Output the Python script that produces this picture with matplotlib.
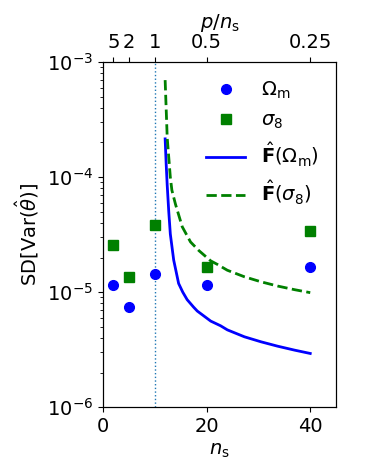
import numpy as np
import matplotlib
matplotlib.use('Agg')
from matplotlib import pyplot as plt

p = 10

# simulations: number of sims and SD of the variance estimates
n_sims = [2, 5, 10, 20, 40]
sd_om = [1.16e-5, 7.45e-6, 1.44e-5, 1.16e-5, 1.65e-5]
sd_s8 = [2.55e-5, 1.36e-5, 3.83e-5, 1.66e-5, 3.39e-5]

# Fisher predictions
n_fish_om = [12.0, 12.2, 12.4, 12.7, 13.0, 13.65, 14.6, 15.4, 16.25, 17.5, 18.2,
             20.8, 22.7, 24.0, 27.3, 30.5, 33.7, 37.0, 40.0]
sd_fish_om = [2.15e-4, 1.3e-4, 8.5e-5, 5.0e-5, 3.2e-5, 1.9e-5, 1.19e-5, 1.0e-5, 8.6e-6,
              7.4e-6, 6.85e-6, 5.6e-6, 5.1e-6, 4.7e-6, 4.09e-6, 3.70e-6, 3.39e-6, 3.13e-6, 2.93e-6]
n_fish_s8 = [12.0, 12.4, 13.0, 13.3, 14.0, 15.3, 16.9, 18.5, 20.8, 22.1, 24.0, 27.3,
             30.5, 33.7, 37.0, 40.0]
sd_fish_s8 = [6.97e-4, 2.2e-4, 1.0e-4, 7.7e-5, 5.8e-5, 3.7e-5, 2.73e-5, 2.3e-5,
              1.87e-5, 1.74e-5, 1.55e-5, 1.36e-5, 1.23e-5, 1.13e-5, 1.05e-5, 9.9e-6]

top_ticks = [5, 2, 1, 0.5, 0.25]

plt.rcParams['font.size'] = 14
fig = plt.figure(figsize=(3.69, 4.74), dpi=100)
ax = fig.add_axes([0.279, 0.141, 0.632, 0.728])

ax.axvline(p, color='C0', linestyle=':', linewidth=1)
ax.plot(n_sims, sd_om, 'o', color='blue', markersize=7, label=r'$\Omega_\mathrm{m}$')
ax.plot(n_sims, sd_s8, 's', color='green', markersize=7, label=r'$\sigma_8$')
ax.plot(n_fish_om, sd_fish_om, '-', color='blue', linewidth=2,
        label=r'$\hat{\mathbf{F}}(\Omega_\mathrm{m})$')
ax.plot(n_fish_s8, sd_fish_s8, '--', color='green', linewidth=2,
        label=r'$\hat{\mathbf{F}}(\sigma_8)$')

ax.set_yscale('log')
ax.set_ylim(1e-6, 1e-3)
ax.set_xlim(0, 45)
ax.set_xticks([0, 20, 40])
ax.set_xlabel(r'$n_\mathrm{s}$')
ax.set_ylabel(r'SD[Var($\hat{\theta}$)]')
ax.legend(loc='upper right', frameon=False)

ax2 = ax.twiny()
ax2.set_xlim(ax.get_xlim())
ax2.set_xticks([p / t for t in top_ticks])
ax2.set_xticklabels([f'{t:g}' for t in top_ticks])
ax2.set_xlabel(r'$p/n_\mathrm{s}$')

fig.savefig('out.png', dpi=100)
